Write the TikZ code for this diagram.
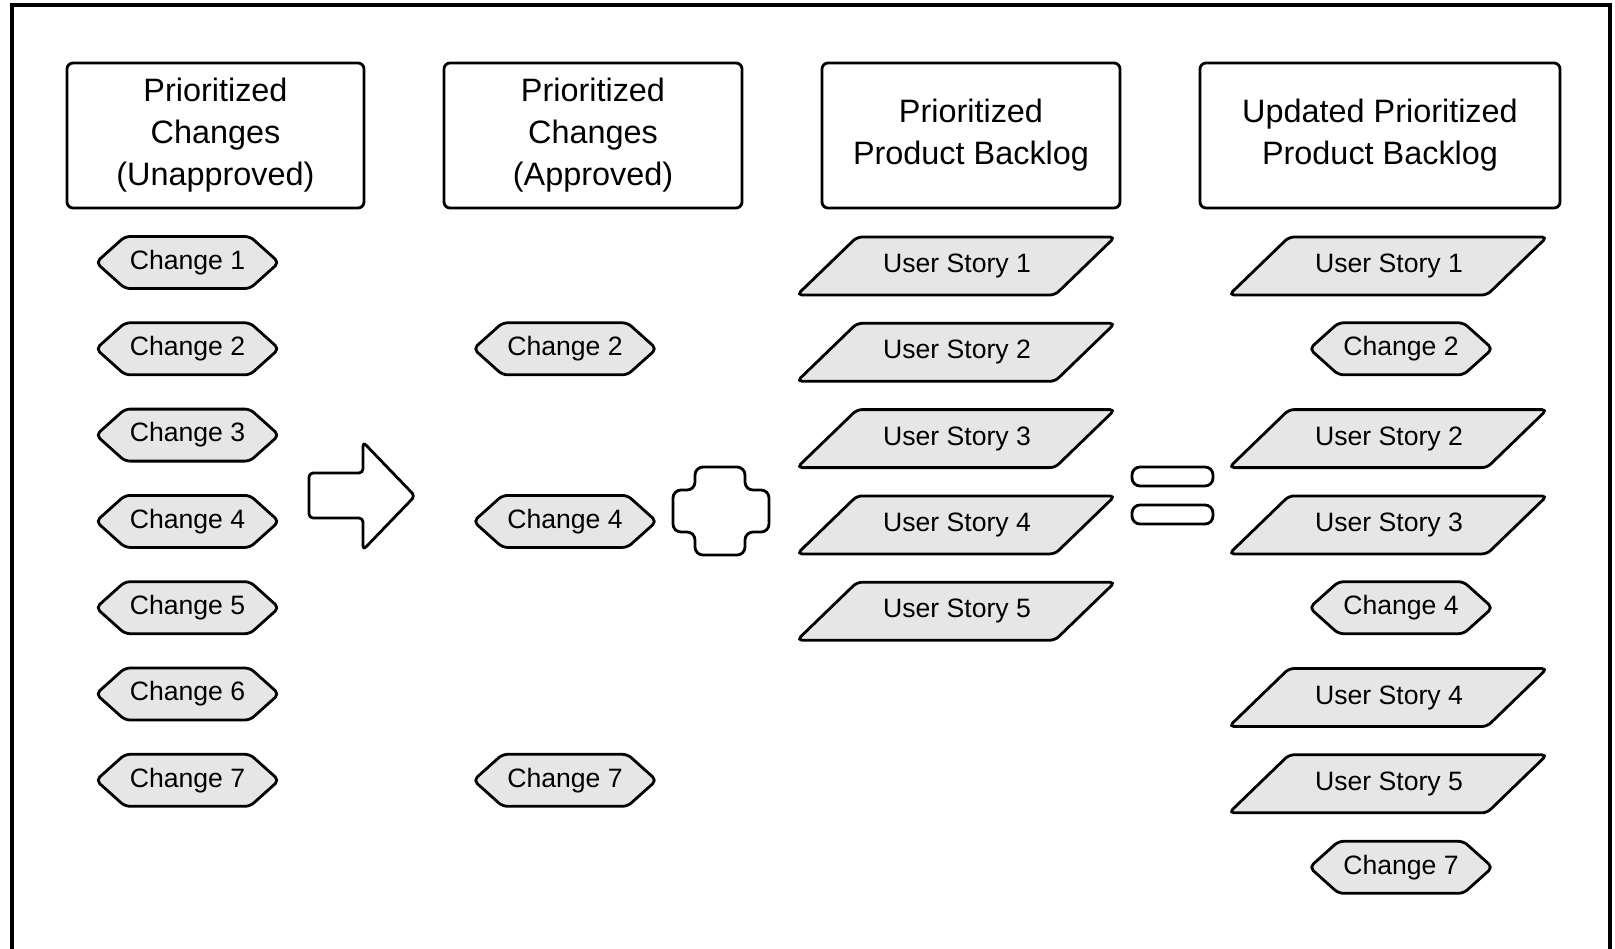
\documentclass[tikz,border=0pt]{standalone}
\usepackage{fontspec}
\setmainfont{Liberation Sans}
\definecolor{shapegray}{RGB}{230,230,230}
\tikzset{
  outl/.style={draw=black, line width=1.4pt, line join=round},
  gshape/.style={outl, fill=shapegray, rounded corners=2.5pt},
  symshape/.style={outl, fill=white},
  bodytxt/.style={font=\fontsize{13.3}{16}\selectfont, inner sep=0pt},
  hdr/.style={outl, rounded corners=3pt, minimum height=72.5pt, align=center,
    inner sep=0pt, font=\fontsize{16.2}{21}\selectfont}
}
\newcommand\mkchange[4]{%
  \draw[gshape] (#2-91.5,#3) -- (#2-62.5,#3-26) -- (#2+62.5,#3-26) -- (#2+91.5,#3)
    -- (#2+62.5,#3+26) -- (#2-62.5,#3+26) -- cycle;
  \node[bodytxt] (#1) at (#2,#3) {#4};}
\newcommand\mkstory[4]{%
  \draw[gshape] (#2-159,#3+29) -- (#2-99,#3-29) -- (#2+159,#3-29) -- (#2+99,#3+29) -- cycle;
  \node[bodytxt] (#1) at (#2+1,#3) {#4};}
\begin{document}
\begin{tikzpicture}[x=0.5pt,y=-0.5pt]
\useasboundingbox (0,0) rectangle (1615,948);
\clip (0,0) rectangle (1615,948);
\fill[white] (0,0) rectangle (1615,948);
\draw[line width=2pt] (11.5,5) rectangle (1610,1000);

% headers
\node[hdr, minimum width=148.5pt] (h1) at (215.5,135.5) {Prioritized\\Changes\\(Unapproved)};
\node[hdr, minimum width=149pt] (h2) at (593,135.5) {Prioritized\\Changes\\(Approved)};
\node[hdr, minimum width=149pt] (h3) at (971,135.5) {Prioritized\\Product Backlog};
\node[hdr, minimum width=180pt] (h4) at (1380,135.5) {Updated Prioritized\\Product Backlog};

% column 1
\mkchange{a1}{187.5}{262.5}{Change 1}
\mkchange{a2}{187.5}{348.8}{Change 2}
\mkchange{a3}{187.5}{435.1}{Change 3}
\mkchange{a4}{187.5}{521.4}{Change 4}
\mkchange{a5}{187.5}{607.7}{Change 5}
\mkchange{a6}{187.5}{694.0}{Change 6}
\mkchange{a7}{187.5}{780.3}{Change 7}

% column 2
\mkchange{b2}{565}{348.8}{Change 2}
\mkchange{b4}{565}{521.4}{Change 4}
\mkchange{b7}{565}{780.3}{Change 7}

% column 3
\mkstory{c1}{956}{266}{User Story 1}
\mkstory{c2}{956}{352.3}{User Story 2}
\mkstory{c3}{956}{438.6}{User Story 3}
\mkstory{c4}{956}{524.9}{User Story 4}
\mkstory{c5}{956}{611.2}{User Story 5}

% column 4
\mkstory{d1}{1388}{266}{User Story 1}
\mkchange{d2}{1401}{348.8}{Change 2}
\mkstory{d3}{1388}{438.6}{User Story 2}
\mkstory{d4}{1388}{524.9}{User Story 3}
\mkchange{d5}{1401}{607.7}{Change 4}
\mkstory{d6}{1388}{697.5}{User Story 4}
\mkstory{d7}{1388}{783.8}{User Story 5}
\mkchange{d8}{1401}{867.3}{Change 7}

% arrow
\draw[symshape, rounded corners=2pt] (309,473) -- (363,473) -- (363,442) -- (415,496)
  -- (363,550) -- (363,518) -- (309,518) -- cycle;
% plus
\draw[symshape, rounded corners=4pt] (695,467) -- (745,467) -- (745,490) -- (769,490)
  -- (769,532) -- (745,532) -- (745,555) -- (695,555) -- (695,532) -- (673,532)
  -- (673,490) -- (695,490) -- cycle;
% equals
\draw[symshape, rounded corners=4pt] (1132,467) rectangle (1213,486);
\draw[symshape, rounded corners=4pt] (1132,505) rectangle (1213,524);
\end{tikzpicture}
\end{document}
